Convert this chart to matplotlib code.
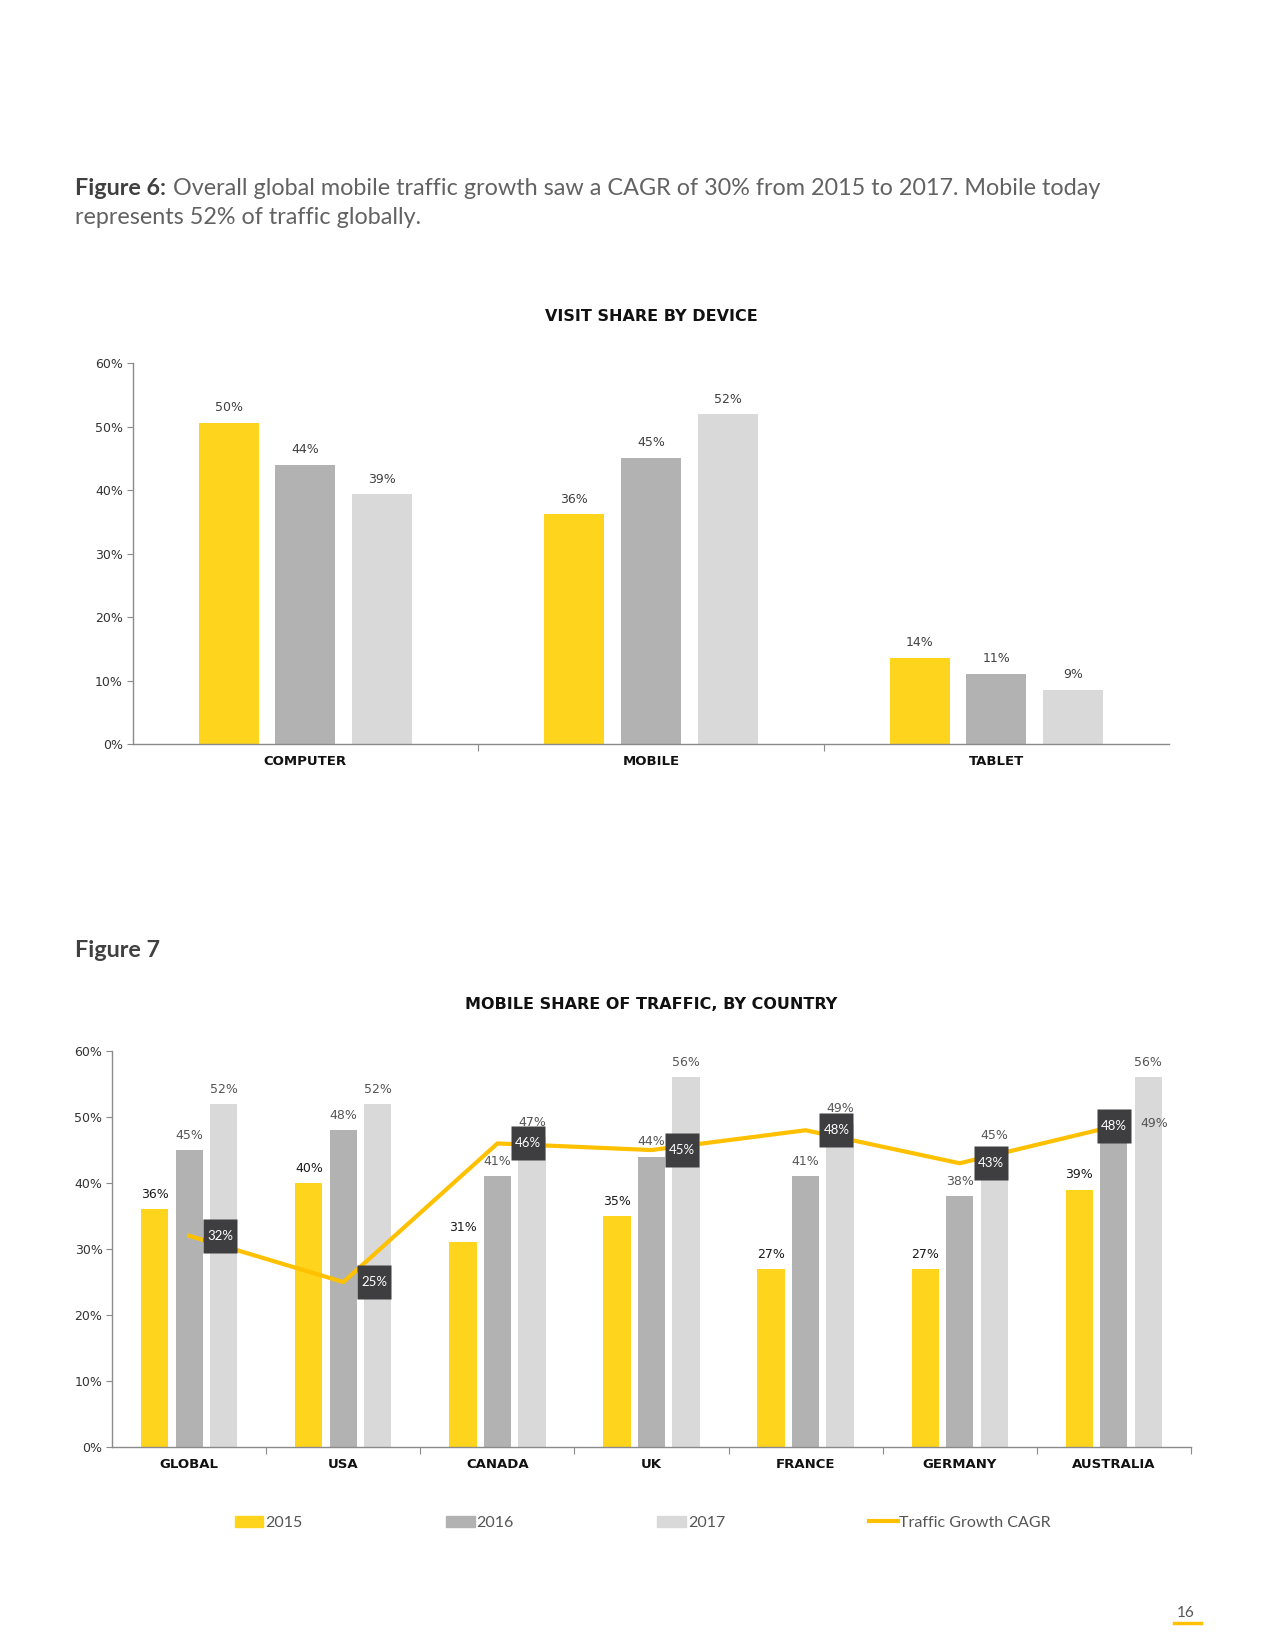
import matplotlib
matplotlib.use("Agg")
import matplotlib.pyplot as plt
from matplotlib.lines import Line2D
from matplotlib.patches import Patch
import numpy as np

plt.rcParams['font.family'] = ['Lato', 'DejaVu Sans']
WIDE = ['DejaVu Sans']

# ---- data: figure 6 ----
devices = ["COMPUTER", "MOBILE", "TABLET"]
years = ["2015", "2016", "2017"]
dev_2015 = [50.6, 36.2, 13.6]
dev_2016 = [44.0, 45.1, 11.1]
dev_2017 = [39.3, 51.9, 8.6]
dev_labels = [["50%", "36%", "14%"],
              ["44%", "45%", "11%"],
              ["39%", "52%", "9%"]]

# ---- data: figure 7 ----
countries = ["GLOBAL", "USA", "CANADA", "UK", "FRANCE", "GERMANY", "AUSTRALIA"]
cty_2015 = [36, 40, 31, 35, 27, 27, 39]
cty_2016 = [45, 48, 41, 44, 41, 38, 49]
cty_2017 = [52, 52, 47, 56, 49, 45, 56]
cagr = [32, 25, 46, 45, 48, 43, 48.6]
cagr_labels = ["32%", "25%", "46%", "45%", "48%", "43%", "48%"]

YELLOW = "#FFD41C"
GRAY1 = "#B2B2B2"
GRAY2 = "#D9D9D9"
LINE = "#FFC000"
SPINE = "#8A8A8A"
BOX = "#3E3E40"
bar_colors = [YELLOW, GRAY1, GRAY2]

fig = plt.figure(figsize=(12.75, 16.5), dpi=100)
fig.patch.set_facecolor("white")


def style_axis(ax, n):
    ax.set_xlim(-0.5, n - 0.5)
    ax.set_ylim(0, 60)
    ax.set_yticks(range(0, 61, 10))
    ax.set_yticklabels(["%d%%" % v for v in range(0, 61, 10)], family=WIDE)
    ax.tick_params(axis="y", length=4, width=0.8, color=SPINE,
                   labelsize=9, labelcolor="#333333", pad=3)
    ax.tick_params(axis="x", which="major", length=0, pad=8)
    ax.tick_params(axis="x", which="minor", length=5, width=0.8,
                   color=SPINE, direction="out")
    for s in ["top", "right"]:
        ax.spines[s].set_visible(False)
    for s in ["left", "bottom"]:
        ax.spines[s].set_color(SPINE)
        ax.spines[s].set_linewidth(1.0)


# ---------------- Figure 6 ----------------
cap = fig.text(0.059, 0.8855, "Figure 6:", fontsize=16.8, fontweight="bold",
               color="#404040", va="center")
fig.canvas.draw()
bb = cap.get_window_extent().transformed(fig.transFigure.inverted())
fig.text(bb.x1 + 0.005, 0.8855,
         "Overall global mobile traffic growth saw a CAGR of 30% from 2015 to 2017. Mobile today",
         fontsize=16.8, color="#626262", va="center")
fig.text(0.059, 0.868, "represents 52% of traffic globally.",
         fontsize=16.8, color="#626262", va="center")

ax1 = fig.add_axes([0.104, 0.549, 0.813, 0.231])
x1 = np.arange(len(devices))
width1 = 0.174
step1 = 0.222
for j, vals in enumerate([dev_2015, dev_2016, dev_2017]):
    xs = x1 + (j - 1) * step1
    ax1.bar(xs, vals, width1, color=bar_colors[j], label=years[j], zorder=2)
    for k, (xx, v) in enumerate(zip(xs, vals)):
        ax1.annotate(dev_labels[j][k], (xx, v), xytext=(0, 6),
                     textcoords="offset points", ha="center", va="bottom",
                     fontsize=9, color="#404040", family=WIDE)
style_axis(ax1, len(devices))
ax1.set_xticks(x1)
ax1.set_xticklabels(devices, fontsize=9.5, fontweight="bold", color="#111111",
                    family=WIDE)
ax1.set_xticks([0.5, 1.5], minor=True)
ax1.set_title("VISIT SHARE BY DEVICE", fontsize=11.5, fontweight="bold",
              color="#111111", pad=30, family=WIDE)

# ---------------- Figure 7 ----------------
fig.text(0.059, 0.424, "Figure 7", fontsize=16.8, fontweight="bold",
         color="#404040", va="center")

ax2 = fig.add_axes([0.088, 0.123, 0.846, 0.240])
x2 = np.arange(len(countries))
width2 = 0.177
step2 = 0.224
label_colors = ["#1A1A1A", "#555555", "#555555"]
for j, vals in enumerate([cty_2015, cty_2016, cty_2017]):
    xs = x2 + (j - 1) * step2
    ax2.bar(xs, vals, width2, color=bar_colors[j], zorder=2)
    for k, (xx, v) in enumerate(zip(xs, vals)):
        dx, dy, va = 0, 6, "bottom"
        if k == len(countries) - 1 and j == 1:
            # label pushed aside by the CAGR box
            dx, dy, va = 29, 0, "center"
        ax2.annotate("%d%%" % v, (xx, v), xytext=(dx, dy),
                     textcoords="offset points", ha="center", va=va,
                     fontsize=9, color=label_colors[j], zorder=3, family=WIDE)

ax2.plot(x2, cagr, color=LINE, lw=3, zorder=4, solid_joinstyle="round")
box_dx = [0.2] * (len(countries) - 1) + [0.0]
box_x = x2 + np.array(box_dx)
ax2.plot(box_x, cagr, ls="none", marker="s", ms=25, mfc=BOX, mec="none",
         zorder=5)
for k, (xx, v) in enumerate(zip(box_x, cagr)):
    ax2.text(xx, v, cagr_labels[k], ha="center", va="center",
             fontsize=9.5, color="white", zorder=6)

style_axis(ax2, len(countries))
ax2.set_xticks(x2)
ax2.set_xticklabels(countries, fontsize=9.5, fontweight="bold", color="#111111",
                    family=WIDE)
ax2.set_xticks(np.arange(0.5, len(countries), 1.0), minor=True)
ax2.set_title("MOBILE SHARE OF TRAFFIC, BY COUNTRY", fontsize=11.5,
              fontweight="bold", color="#111111", pad=30, family=WIDE)

handles = [Patch(color=c) for c in bar_colors] + [Line2D([], [], color=LINE, lw=3)]
fig.legend(handles, years + ["Traffic Growth CAGR"], loc="center left",
           bbox_to_anchor=(0.184, 0.077), ncol=4, frameon=False,
           fontsize=11.5, handlelength=1.8, handleheight=0.7, handletextpad=0.1,
           columnspacing=9.0, borderpad=0, borderaxespad=0,
           labelcolor="#555555")

# page number
fig.text(0.930, 0.0225, "16", fontsize=11, color="#555555", ha="center",
         va="center")
fig.add_artist(Line2D([0.921, 0.942], [0.0165, 0.0165], color=LINE, lw=2.5,
                      transform=fig.transFigure))

fig.savefig("out.png", dpi=100, facecolor="white")
